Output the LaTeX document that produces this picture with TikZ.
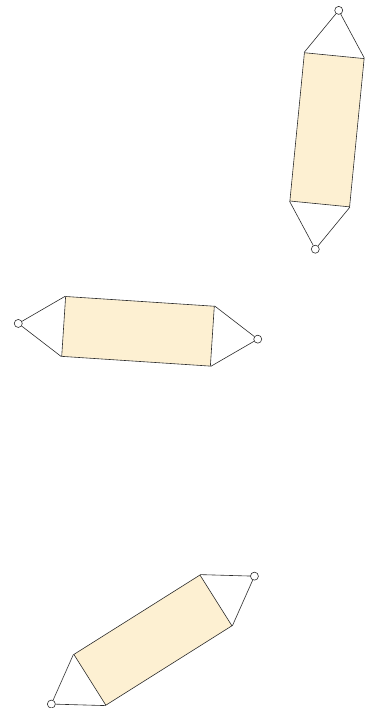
\documentclass[tikz,border=0pt]{standalone}
\usepackage{tikz}
\usetikzlibrary{calc, positioning}
\definecolor{mcream}{HTML}{FDF0D2}
\definecolor{mline}{HTML}{2B2B2B}
\tikzset{
  cbox/.style={draw=mline, fill=mcream, line width=0.6pt,
               minimum width=149pt, minimum height=60pt, inner sep=0pt},
  knob/.style={circle, draw=mline, fill=white, line width=0.6pt,
               minimum size=8pt, inner sep=0pt},
  cord/.style={-, mline, line width=0.6pt},
}

\begin{document}
\begin{tikzpicture}[x=1pt, y=1pt]
  \useasboundingbox (0,0) rectangle (366,-708);

  % Top box (almost upright)
  \node[cbox, rotate=84.4] (top) at (327,-129.8) {};
  \node[knob] (topE) at ($(top.center)!120pt!(top.east)$) {};
  \node[knob] (topW) at ($(top.center)!120pt!(top.west)$) {};
  \draw[cord] (top.north east) -- (topE);
  \draw[cord] (top.south east) -- (topE);
  \draw[cord] (top.north west) -- (topW);
  \draw[cord] (top.south west) -- (topW);

  % Middle box (almost flat)
  \node[cbox, rotate=-3.75] (mid) at (138,-331.3) {};
  \node[knob] (midE) at ($(mid.center)!120pt!(mid.east)$) {};
  \node[knob] (midW) at ($(mid.center)!120pt!(mid.west)$) {};
  \draw[cord] (mid.north east) -- (midE);
  \draw[cord] (mid.south east) -- (midE);
  \draw[cord] (mid.north west) -- (midW);
  \draw[cord] (mid.south west) -- (midW);

  % Bottom box (tilted)
  \node[cbox, rotate=32.2] (bot) at (152.9,-640.1) {};
  \node[knob] (botE) at ($(bot.center)!120pt!(bot.east)$) {};
  \node[knob] (botW) at ($(bot.center)!120pt!(bot.west)$) {};
  \draw[cord] (bot.north east) -- (botE);
  \draw[cord] (bot.south east) -- (botE);
  \draw[cord] (bot.north west) -- (botW);
  \draw[cord] (bot.south west) -- (botW);

\end{tikzpicture}
\end{document}
